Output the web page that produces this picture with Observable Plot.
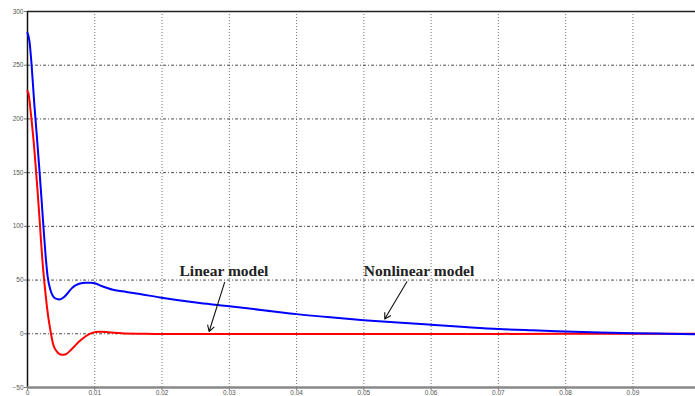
<!DOCTYPE html>
<html>
<head>
<meta charset="utf-8">
<script src="https://cdn.jsdelivr.net/npm/d3@7"></script>
<script src="https://cdn.jsdelivr.net/npm/@observablehq/plot@0.6"></script>
<style>
  html, body { margin: 0; padding: 0; background: #fff; }
  #chart svg { display: block; }
</style>
</head>
<body>
<div id="chart"></div>
<script>
// Nonlinear model (blue)
const blueT = [0, 0.0003, 0.0006, 0.001, 0.0014, 0.0018, 0.0021, 0.0024, 0.0027, 0.003, 0.0034, 0.0038, 0.0043, 0.0048, 0.0054, 0.006, 0.0066, 0.0072, 0.0078, 0.0086, 0.0094, 0.01, 0.011, 0.0127, 0.0147, 0.0167, 0.0197, 0.0256, 0.03, 0.035, 0.04, 0.045, 0.05, 0.055, 0.06, 0.065, 0.07, 0.075, 0.08, 0.085, 0.09, 0.095, 0.1];
const blueV = [280, 272, 251, 215, 183, 150, 124, 97, 72, 53, 41, 35, 32.5, 32, 34, 38, 42.5, 45.2, 46.8, 47.6, 47.6, 47, 44.5, 41, 39, 37, 33.8, 28.6, 25.6, 22, 18.3, 15.3, 12.7, 10.5, 8.4, 6.3, 4.4, 3.2, 2.2, 1.3, 0.5, 0, -0.5];
// Linear model (red)
const redT = [0, 0.0002, 0.0004, 0.0009, 0.0016, 0.0023, 0.0027, 0.0031, 0.0035, 0.0038, 0.0043, 0.0051, 0.0057, 0.0063, 0.007, 0.0078, 0.0086, 0.0095, 0.0108, 0.012, 0.014, 0.017, 0.02, 0.03, 0.04, 0.05, 0.06, 0.07, 0.08, 0.09, 0.1];
const redV = [226, 222, 211, 180, 124, 62, 36, 15, 0, -9.5, -16, -19.6, -19, -16, -11.5, -6.5, -2.5, 0.6, 1.9, 1.5, 0.5, 0, -0.3, -0.3, -0.2, -0.2, -0.1, -0.1, 0, 0, 0];
// tick labels
const xTicks = [0, 0.01, 0.02, 0.03, 0.04, 0.05, 0.06, 0.07, 0.08, 0.09];
const yTicks = [-50, 0, 50, 100, 150, 200, 250, 300];
// annotations (data coordinates)
const labelText = ["Linear model", "Nonlinear model"];
const labelT = [0.0292, 0.0582];
const labelV = [58.7, 58.7];
const arrowT1 = [0.0293, 0.0564];
const arrowV1 = [47.8, 48.4];
const arrowT2 = [0.0270, 0.0531];
const arrowV2 = [2.1, 13.7];

const blue = blueT.map((t, i) => ({t, v: blueV[i]}));
const red = redT.map((t, i) => ({t, v: redV[i]}));
const labels = labelText.map((s, i) => ({s, t: labelT[i], v: labelV[i]}));
const arrows = arrowT1.map((t, i) => ({t1: t, v1: arrowV1[i], t2: arrowT2[i], v2: arrowV2[i]}));

const chart = Plot.plot({
  width: 695,
  height: 396,
  marginLeft: 27,
  marginRight: 0,
  marginTop: 11,
  marginBottom: 9,
  style: {fontFamily: "Liberation Sans, Arial, sans-serif", background: "#fff"},
  x: {domain: [0, 0.0993]},
  y: {domain: [-50, 300]},
  marks: [
    Plot.ruleX(xTicks.slice(1), {stroke: "#000", strokeOpacity: 0.55, strokeDasharray: "1,2"}),
    Plot.ruleY(yTicks.slice(1, -1), {stroke: "#000", strokeOpacity: 0.7, strokeDasharray: "3,2,1,2"}),
    Plot.axisX({ticks: xTicks, tickFormat: d => d === 0 ? "0" : d3.format(".2f")(d), tickSize: 3, tickPadding: 0, fontSize: 6.5, color: "#555", stroke: "#777"}),
    Plot.axisY({ticks: yTicks, tickSize: 3, tickPadding: 1, fontSize: 6.5, color: "#555", stroke: "#777"}),
    Plot.ruleX([0], {stroke: "#111", strokeWidth: 1.5}),
    Plot.ruleY([300], {stroke: "#222", strokeWidth: 1.5}),
    Plot.ruleY([-50], {stroke: "#888", strokeWidth: 2.5}),
    Plot.line(red, {x: "t", y: "v", stroke: "#ff0000", strokeWidth: 2, curve: "monotone-x"}),
    Plot.line(blue, {x: "t", y: "v", stroke: "#0000ff", strokeWidth: 2, curve: "monotone-x"}),
    Plot.arrow(arrows, {x1: "t1", y1: "v1", x2: "t2", y2: "v2", stroke: "#111", strokeWidth: 1.1, headLength: 9}),
    Plot.text(labels, {x: "t", y: "v", text: "s", fontFamily: "Liberation Serif, Times New Roman, serif", fontWeight: "bold", fontSize: 15.5, fill: "#222"})
  ]
});
document.getElementById("chart").appendChild(chart);
</script>
</body>
</html>
